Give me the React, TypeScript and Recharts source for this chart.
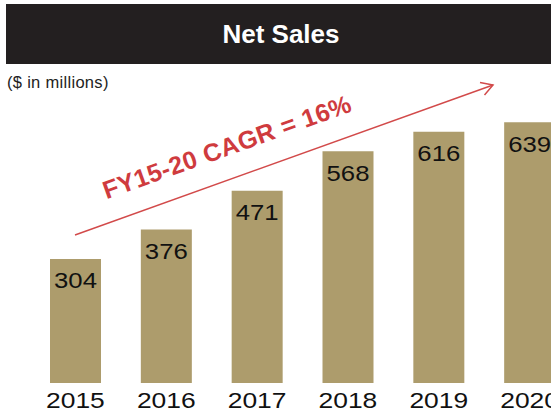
import React from 'react';
import { BarChart, Bar, XAxis, YAxis, LabelList } from 'recharts';

const years = ['2015', '2016', '2017', '2018', '2019', '2020'];
const netSales = [304, 376, 471, 568, 616, 639];
const chartTitle = 'Net Sales';
const unitNote = '($ in millions)';
const cagrNote = 'FY15-20 CAGR = 16%';

const data = years.map((year, i) => ({ year, sales: netSales[i] }));

const FONT = '"Liberation Sans", Arial, Helvetica, sans-serif';
const BAR = '#ad9c6c';
const RED = '#cf3b3e';

const YearTick = (props: any) => {
  const { x, y, payload } = props;
  return (
    <g transform={`translate(${x},${y + 25}) scale(1.2,1)`}>
      <text x={0} y={0} textAnchor="middle" fontSize={22} fontFamily={FONT} fill="#111">
        {payload.value}
      </text>
    </g>
  );
};

const ValueLabel = (props: any) => {
  const { x, y, width, value } = props;
  const cx = Number(x) + Number(width) / 2;
  return (
    <g transform={`translate(${cx},${Number(y) + 29.5}) scale(1.17,1)`}>
      <text x={0} y={0} textAnchor="middle" fontSize={22} fontFamily={FONT} fill="#111">
        {value}
      </text>
    </g>
  );
};

export default function App() {
  return (
    <div
      style={{
        position: 'fixed',
        left: 0,
        top: 0,
        width: 551,
        height: 417,
        overflow: 'hidden',
        background: '#fff',
      }}
    >
      <svg width={551} height={417} style={{ position: 'absolute', left: 0, top: 0 }}>
        <rect x={6} y={4} width={560} height={60} fill="#231f20" />
        <text x={281} y={43} textAnchor="middle" fontSize={26} fontWeight="bold" fontFamily={FONT} fill="#fff">
          {chartTitle}
        </text>
        <text x={7} y={88} fontSize={16.5} fontFamily={FONT} fill="#222" letterSpacing={0.3}>
          {unitNote}
        </text>
      </svg>
      <div style={{ position: 'absolute', left: 0, top: 0 }}>
        <BarChart
          width={580}
          height={417}
          data={data}
          margin={{ top: 100, right: 5, left: 30, bottom: 0 }}
          barCategoryGap={20}
        >
          <XAxis
            dataKey="year"
            axisLine={false}
            tickLine={false}
            tickSize={0}
            tickMargin={0}
            height={34}
            interval={0}
            tick={<YearTick />}
          />
          <YAxis hide domain={[0, 693.6]} />
          <Bar dataKey="sales" fill={BAR} isAnimationActive={false}>
            <LabelList dataKey="sales" content={<ValueLabel />} />
          </Bar>
        </BarChart>
      </div>
      <svg
        width={551}
        height={417}
        style={{ position: 'absolute', left: 0, top: 0, pointerEvents: 'none' }}
      >
        <line x1={75} y1={235} x2={493} y2={85} stroke="#d24a4a" strokeWidth={1.5} />
        <polyline points="480,82.5 493,85 484.5,95" fill="none" stroke="#d24a4a" strokeWidth={1.5} />
        <text
          x={230}
          y={155}
          textAnchor="middle"
          fontSize={25}
          fontWeight="bold"
          fontFamily={FONT}
          letterSpacing={0.4}
          fill={RED}
          transform="rotate(-19.7 230 155)"
        >
          {cagrNote}
        </text>
      </svg>
    </div>
  );
}
